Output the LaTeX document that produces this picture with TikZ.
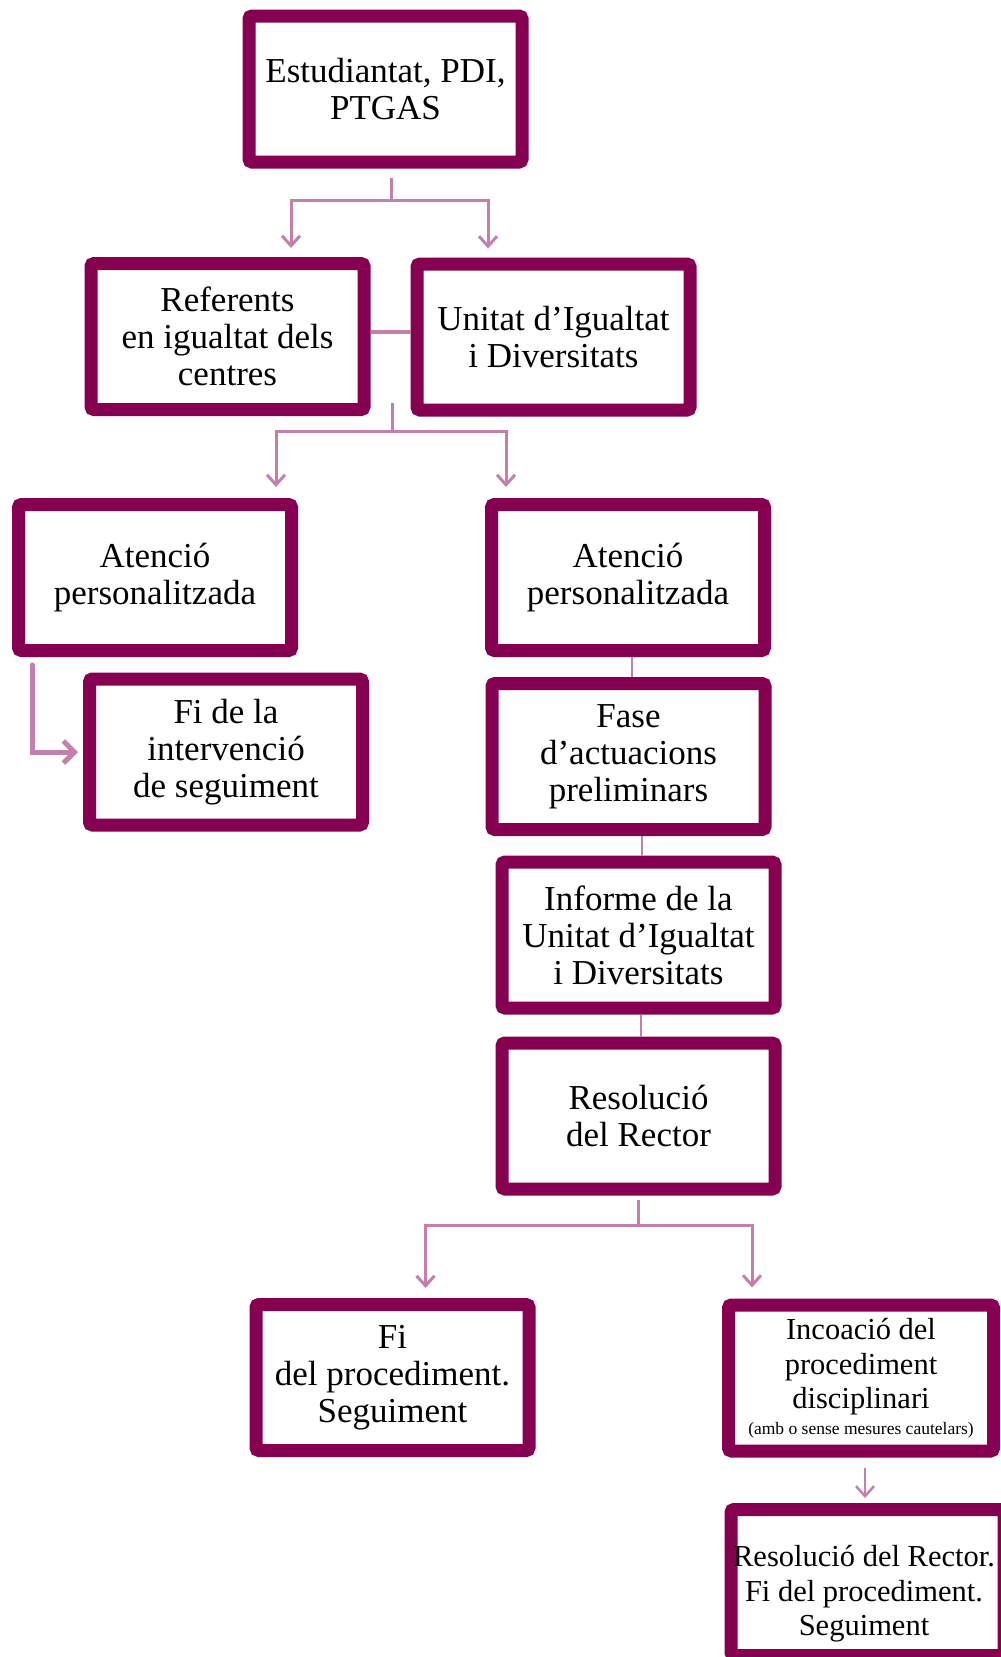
\documentclass[tikz,border=0pt]{standalone}
\usepackage{fontspec}
\setmainfont{Liberation Serif}
\usetikzlibrary{arrows.meta,calc}
\definecolor{boxc}{RGB}{133,0,80}
\definecolor{linec}{RGB}{196,128,170}
\tikzset{
  box/.style={draw=boxc, line width=13pt, rounded corners=3pt, fill=white,
    minimum width=273pt, minimum height=146pt, inner sep=0pt, align=center,
    font=\fontsize{35}{37}\selectfont},
  smallfont/.style={font=\fontsize{30.5}{34.5}\selectfont},
  conn/.style={draw=linec, line width=3pt},
  thinconn/.style={draw=linec, line width=1.6pt},
  arr/.style={conn, -{Straight Barb[length=10pt,width=18pt]}},
}
\begin{document}
\begin{tikzpicture}[x=1pt,y=-1pt]
\useasboundingbox (0,0) rectangle (1001,1657);
\clip (0,0) rectangle (1001,1657);

% boxes
\node[box] (est)  at (385.5,89)    {Estudiantat, PDI,\\PTGAS};
\node[box] (ref)  at (227.5,336.5) {Referents\\en igualtat dels\\centres};
\node[box] (uid)  at (553.5,337)   {Unitat d’Igualtat\\i Diversitats};
\node[box] (at1)  at (155,577.5)   {Atenció\\personalitzada};
\node[box] (at2)  at (628,577.5)   {Atenció\\personalitzada};
\node[box] (fi1)  at (226,752)     {Fi de la\\intervenció\\de seguiment};
\node[box] (fase) at (628.5,756.5) {Fase\\d’actuacions\\preliminars};
\node[box] (inf)  at (638.5,935)   {Informe de la\\Unitat d’Igualtat\\i Diversitats};
\node[box] (res)  at (638.5,1116)  {Resolució\\del Rector};
\node[box] (fip)  at (392.5,1377.5) {Fi\\del procediment.\\Seguiment};
\node[box, smallfont, minimum width=265pt] (inc) at (861,1378)
  {Incoació del\\procediment\\disciplinari\\[-9pt]{\fontsize{17.5}{20}\selectfont(amb o sense mesures cautelars)}};
\node[box] (last) at (867.5,1582.5) {};
\node[smallfont, align=center, inner sep=0pt] (lasttxt) at (864,1594)
  {Resolució del Rector.\\Fi del procediment.\\Seguiment};

% connector end points
\coordinate (t1a) at ([xshift=63.5pt,yshift=9pt]ref.north);
\coordinate (t1b) at ([xshift=-65.5pt,yshift=9pt]uid.north);
\coordinate (s2)  at ($(ref.east)!0.5!(uid.west)+(2,66)$);
\coordinate (t2a) at ([xshift=121pt,yshift=11pt]at1.north);
\coordinate (t2b) at ([xshift=-122pt,yshift=11pt]at2.north);
\coordinate (t3a) at ([xshift=-110pt,yshift=10pt]fip.north east);
\coordinate (t3b) at ([xshift=30pt,yshift=11pt]inc.north west);

% first split
\draw[arr] ([xshift=5.5pt,yshift=-9pt]est.south) -- ++(0,23) -| (t1a);
\draw[arr] ([xshift=5.5pt,yshift=-9pt]est.south) -- ++(0,23) -| (t1b);
% link between row-2 boxes
\draw[draw=linec, line width=4pt] ([yshift=4.5pt]ref.east) -- ([yshift=5pt]uid.west);
% second split
\draw[arr] (s2) -- ++(0,29) -| (t2a);
\draw[arr] (s2) -- ++(0,29) -| (t2b);
% left branch
\draw[draw=linec, line width=5pt, line cap=round,
      -{Straight Barb[length=11pt,width=22pt]}]
  ([xshift=20pt,yshift=-8pt]at1.south west) -- ++(0,87) -- ([xshift=-5pt]fi1.west);
% right column
\draw[thinconn] ([xshift=4pt]at2.south) -- ([xshift=3.5pt]fase.north);
\draw[thinconn] ([xshift=13.5pt]fase.south) -- ([xshift=3.5pt]inf.north);
\draw[thinconn] ([xshift=2.5pt]inf.south) -- ([xshift=2.5pt]res.north);
% third split
\draw[arr] ([xshift=-0.5pt,yshift=-4pt]res.south) -- ++(0,26) -| (t3a);
\draw[arr] ([xshift=-0.5pt,yshift=-4pt]res.south) -- ++(0,26) -| (t3b);
% final arrow
\draw[arr, line width=2.5pt] ([xshift=4pt,yshift=-10pt]inc.south) -- ([xshift=-2.5pt,yshift=5pt]last.north);
\end{tikzpicture}
\end{document}
